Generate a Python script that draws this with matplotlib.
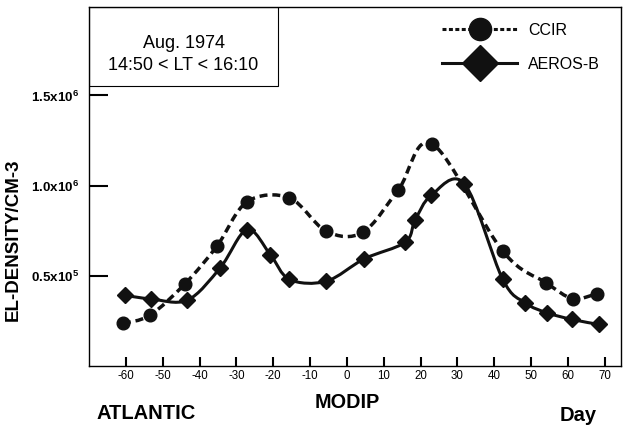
"""
Electron density versus modified dip latitude (MODIP), Aug. 1974:
CCIR model compared with AEROS-B measurements.
"""

import matplotlib.pyplot as plt
import numpy as np
from matplotlib.lines import Line2D
from matplotlib.patches import PathPatch, Rectangle
from matplotlib.path import Path

plt.rcParams["font.family"] = ["Liberation Sans", "DejaVu Sans"]
plt.rcParams["mathtext.fontset"] = "custom"
plt.rcParams["mathtext.rm"] = "Liberation Sans"
plt.rcParams["mathtext.bf"] = "Liberation Sans:bold"
plt.rcParams["axes.unicode_minus"] = False

# densities in units of 1e6 cm^-3
ccir_modip = [-60.8, -53.4, -43.9, -35.3, -27.1, -15.6, -5.6, 4.3, 14.0,
              23.2, 42.3, 54.1, 61.3, 67.8]
ccir_density = [0.236, 0.282, 0.457, 0.664, 0.910, 0.932, 0.747, 0.741,
                0.978, 1.231, 0.636, 0.461, 0.374, 0.400]

aeros_modip = [-60.2, -53.2, -43.3, -34.4, -27.1, -20.8, -15.6, -5.6, 4.7,
               15.8, 18.5, 22.9, 31.9, 42.3, 48.4, 54.3, 61.1, 68.5]
aeros_density = [0.391, 0.372, 0.365, 0.544, 0.756, 0.618, 0.480, 0.470,
                 0.594, 0.686, 0.808, 0.946, 1.010, 0.480, 0.350, 0.295,
                 0.258, 0.230]

x_ticks = list(range(-60, 80, 10))
y_ticks = [0.5, 1.0, 1.5]
y_tick_labels = [r"$\mathbf{0.5x10^5}$", r"$\mathbf{1.0x10^6}$",
                 r"$\mathbf{1.5x10^6}$"]


def smooth_path(x, y):
    # Catmull-Rom spline through the points, drawn as cubic Bezier segments
    pts = np.column_stack([x, y])
    ext = np.vstack([pts[0], pts, pts[-1]])
    verts = [pts[0]]
    codes = [Path.MOVETO]
    for i in range(len(pts) - 1):
        p0, p1, p2, p3 = ext[i], ext[i + 1], ext[i + 2], ext[i + 3]
        verts += [p1 + (p2 - p0) / 6, p2 - (p3 - p1) / 6, p2]
        codes += [Path.CURVE4] * 3
    return Path(verts, codes)


fig = plt.figure(figsize=(6.23, 4.28), dpi=100)
ax = fig.add_axes([0.1429, 0.1449, 0.8539, 0.8387])

ax.add_patch(PathPatch(smooth_path(ccir_modip, ccir_density), fill=False,
                       lw=2.5, linestyle=(0, (2.3, 1.4)), capstyle="butt",
                       edgecolor="#111111", zorder=2))
ax.add_patch(PathPatch(smooth_path(aeros_modip, aeros_density), fill=False,
                       lw=2.2, edgecolor="#111111", zorder=2))
ax.plot(ccir_modip, ccir_density, linestyle="none", marker="o",
        markersize=9.1, color="#111111", zorder=3)
ax.plot(aeros_modip, aeros_density, linestyle="none", marker="D",
        markersize=8.5, color="#111111", zorder=3)

ax.set_xlim(-70, 74.4)
ax.set_ylim(0, 1.99)
ax.set_xticks(x_ticks)
ax.set_yticks(y_ticks)
ax.set_yticklabels(y_tick_labels)
ax.tick_params(axis="x", direction="in", length=6.5, width=1.5, pad=2.7,
               labelsize=8.3)
ax.tick_params(axis="y", direction="in", length=13.7, width=1.5, pad=7,
               labelsize=9.6)
for spine in ax.spines.values():
    spine.set_linewidth(1.0)

# info box in the upper left corner
ax.add_patch(Rectangle((0, 0.78), 0.355, 0.22, transform=ax.transAxes,
                       fill=False, lw=0.8, edgecolor="black", zorder=4))
ax.text(0.178, 0.886, "Aug. 1974", transform=ax.transAxes, ha="center",
        va="baseline", fontsize=13)
ax.text(0.176, 0.8245, "14:50 < LT < 16:10", transform=ax.transAxes,
        ha="center", va="baseline", fontsize=13)

handles = [
    Line2D([], [], color="#111111", lw=2.2, dashes=(1.3, 0.8), marker="o",
           markersize=16),
    Line2D([], [], color="#111111", lw=2.2, marker="D", markersize=18),
]
ax.legend(handles, ["CCIR", "AEROS-B"], loc="upper left",
          bbox_to_anchor=(0.6635, 0.956), frameon=False, fontsize=11.5,
          handlelength=4.7, handletextpad=0.7, labelspacing=1.18,
          borderpad=0, borderaxespad=0, numpoints=1)

fig.text(13.7 / 623, 1 - 240 / 428, "EL-DENSITY/CM-3", rotation=90,
         ha="center", va="center", fontsize=13.5, fontweight="bold")
fig.text(347.5 / 623, 1 - 408 / 428, "MODIP", ha="center", va="baseline",
         fontsize=14.3, fontweight="bold")
fig.text(146 / 623, 1 - 419 / 428, "ATLANTIC", ha="center", va="baseline",
         fontsize=14.5, fontweight="bold")
fig.text(578.5 / 623, 1 - 421 / 428, "Day", ha="center", va="baseline",
         fontsize=14.5, fontweight="bold")

fig.savefig("out.png", dpi=100)
